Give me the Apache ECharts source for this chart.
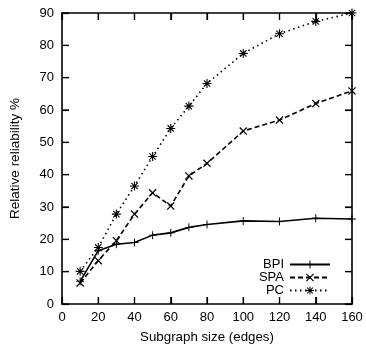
<!DOCTYPE html>
<html>
<head>
<meta charset="utf-8">
<script src="https://cdn.jsdelivr.net/npm/echarts@6/dist/echarts.min.js"></script>
<style>html,body{margin:0;padding:0;background:#fff}#c{width:366px;height:350px}</style>
</head>
<body>
<div id="c"></div>
<script>
var xValues = [10, 20, 30, 40, 50, 60, 70, 80, 100, 120, 140, 160];
var bpi = [7, 16.5, 18.5, 19, 21.3, 22, 23.7, 24.6, 25.7, 25.5, 26.5, 26.3];
var spa = [6.5, 13.4, 19.6, 27.8, 34.4, 30.3, 39.6, 43.5, 53.5, 56.9, 62, 65.9];
var pc = [10.1, 17.5, 27.8, 36.5, 45.6, 54.3, 61.2, 68.2, 77.5, 83.6, 87.4, 90];
var xTicks = [0, 20, 40, 60, 80, 100, 120, 140, 160];
var yTicks = [0, 10, 20, 30, 40, 50, 60, 70, 80, 90];
var seriesNames = ['BPI', 'SPA', 'PC'];
var xTitle = 'Subgraph size (edges)';
var yTitle = 'Relative reliability %';

var X_MIN = xTicks[0], X_MAX = xTicks[xTicks.length - 1];
var Y_MIN = yTicks[0], Y_MAX = yTicks[yTicks.length - 1];

function pairs(ys) { return xValues.map(function (x, i) { return [x, ys[i]]; }); }

var PLUS = 'path://M-10,-1.2L10,-1.2L10,1.2L-10,1.2ZM-1.2,-10L1.2,-10L1.2,10L-1.2,10Z';
var CROSS = 'path://M-6.2,-7.9L7.9,6.2L6.2,7.9L-7.9,-6.2ZM-7.9,6.2L6.2,-7.9L7.9,-6.2L-6.2,7.9Z';
var STAR = 'path://M-10,-1.2L10,-1.2L10,1.2L-10,1.2ZM-1.2,-10L1.2,-10L1.2,10L-1.2,10Z' +
  'M-6.2,-7.9L7.9,6.2L6.2,7.9L-7.9,-6.2ZM-7.9,6.2L6.2,-7.9L7.9,-6.2L-6.2,7.9Z';

var TICK_LEN = 7;

var font = 'Liberation Sans, Arial, sans-serif';
var chart = echarts.init(document.getElementById('c'), null, {renderer: 'canvas'});
function mkAxis(extra) {
  var a = {
    axisLine: {show: true, onZero: false, lineStyle: {color: '#000', width: 1.6}},
    axisTick: {show: true, inside: true, length: TICK_LEN, lineStyle: {color: '#000', width: 1.2}},
    splitLine: {show: false}
  };
  for (var k in extra) a[k] = extra[k];
  return a;
}
chart.setOption({
  animation: false,
  backgroundColor: '#fff',
  grid: {left: 60, right: 14, top: 13, bottom: 46, containLabel: false},
  legend: {
    orient: 'vertical', align: 'right', right: 30, top: 253,
    itemWidth: 40, itemHeight: 10, itemGap: 0,
    textStyle: {fontFamily: font, fontSize: 13, lineHeight: 12, color: '#000', padding: [0, 1, 0, 0]},
    data: seriesNames
  },
  xAxis: [
    mkAxis({
      type: 'value', min: X_MIN, max: X_MAX, interval: 20, position: 'bottom',
      name: xTitle, nameLocation: 'middle', nameGap: 27,
      nameTextStyle: {fontFamily: font, fontSize: 13.3, color: '#000'},
      axisLabel: {fontFamily: font, fontSize: 13, color: '#000', margin: 7}
    }),
    mkAxis({
      type: 'value', min: X_MIN, max: X_MAX, interval: 20, position: 'top',
      axisLabel: {show: false}
    })
  ],
  yAxis: [
    mkAxis({
      type: 'value', min: Y_MIN, max: Y_MAX, interval: 10, position: 'left',
      name: yTitle, nameLocation: 'middle', nameGap: 40,
      nameTextStyle: {fontFamily: font, fontSize: 13.5, color: '#000'},
      axisLabel: {fontFamily: font, fontSize: 13, color: '#000', margin: 8}
    }),
    mkAxis({
      type: 'value', min: Y_MIN, max: Y_MAX, interval: 10, position: 'right',
      axisLabel: {show: false}
    })
  ],
  series: [
    {name: seriesNames[0], type: 'line', data: pairs(bpi), symbol: PLUS, symbolSize: 8,
     lineStyle: {color: '#000', width: 1.6, type: 'solid'}, itemStyle: {color: '#000'}},
    {name: seriesNames[1], type: 'line', data: pairs(spa), symbol: CROSS, symbolSize: 8,
     lineStyle: {color: '#000', width: 1.6, type: [5, 3]}, itemStyle: {color: '#000'}},
    {name: seriesNames[2], type: 'line', data: pairs(pc), symbol: STAR, symbolSize: 9,
     lineStyle: {color: '#000', width: 1.6, type: [1.5, 3.5]}, itemStyle: {color: '#000'}}
  ]
});

// Tick marks placed through the chart's own scales.
var tickEls = [];
xTicks.forEach(function (v) {
  var b = chart.convertToPixel({gridIndex: 0}, [v, Y_MIN]);
  var t = chart.convertToPixel({gridIndex: 0}, [v, Y_MAX]);
  tickEls.push({type: 'line', z: 100, shape: {x1: b[0], y1: b[1], x2: b[0], y2: b[1] - TICK_LEN}, style: {stroke: '#000', lineWidth: 1.2}});
  tickEls.push({type: 'line', z: 100, shape: {x1: t[0], y1: t[1], x2: t[0], y2: t[1] + TICK_LEN}, style: {stroke: '#000', lineWidth: 1.2}});
});
yTicks.forEach(function (v) {
  var l = chart.convertToPixel({gridIndex: 0}, [X_MIN, v]);
  var r = chart.convertToPixel({gridIndex: 0}, [X_MAX, v]);
  tickEls.push({type: 'line', z: 100, shape: {x1: l[0], y1: l[1], x2: l[0] + TICK_LEN, y2: l[1]}, style: {stroke: '#000', lineWidth: 1.2}});
  tickEls.push({type: 'line', z: 100, shape: {x1: r[0], y1: r[1], x2: r[0] - TICK_LEN, y2: r[1]}, style: {stroke: '#000', lineWidth: 1.2}});
});
chart.setOption({graphic: {elements: tickEls}});
</script>
</body>
</html>
